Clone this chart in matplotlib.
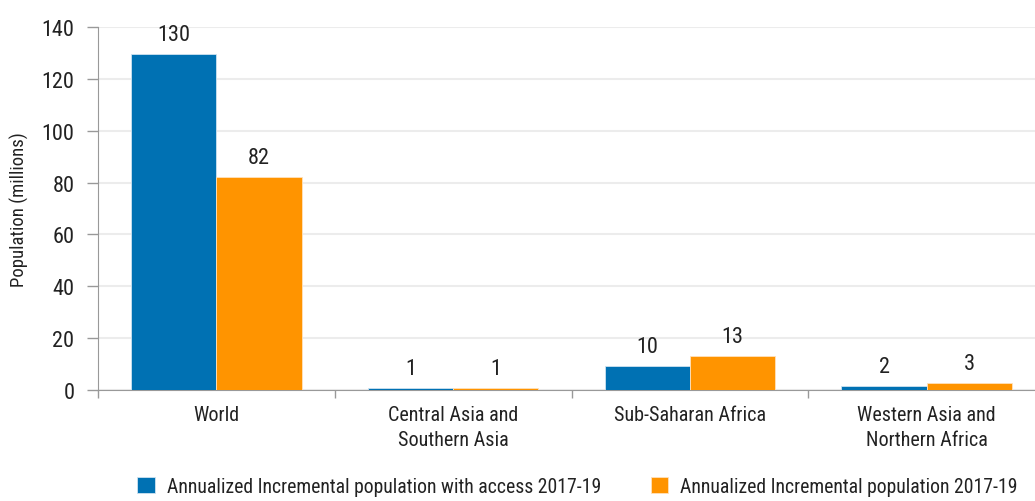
import matplotlib
matplotlib.use('Agg')
import matplotlib.pyplot as plt
from matplotlib import font_manager
import numpy as np

# datos
categorias = ['World', 'Central Asia and\nSouthern Asia', 'Sub-Saharan Africa',
              'Western Asia and\nNorthern Africa']
con_acceso = [129.4, 0.8, 9.2, 1.6]
incremental = [82.3, 0.8, 13.2, 2.6]
etiquetas_acceso = ['130', '1', '10', '2']
etiquetas_incr = ['82', '1', '13', '3']
series = ['Annualized Incremental population with access 2017-19',
          'Annualized Incremental population 2017-19']
yticks = [0, 20, 40, 60, 80, 100, 120, 140]

# busco una fuente angosta si existe
disponibles = {f.name for f in font_manager.fontManager.ttflist}
familia = 'DejaVu Sans'
for nombre in ['Liberation Sans Narrow', 'Roboto Condensed', 'Open Sans Condensed',
               'Roboto', 'Liberation Sans']:
    if nombre in disponibles:
        familia = nombre
        break
plt.rcParams['font.family'] = [familia, 'DejaVu Sans']

azul = '#0071b3'
naranja = '#ff9400'
texto = '#222222'

fig = plt.figure(figsize=(10.35, 5.02), dpi=100)
ax = fig.add_axes([98 / 1035, 1 - 391 / 502, 947 / 1035, 363 / 502])

x = np.arange(len(categorias))
w = 0.36
ax.bar(x - w / 2, con_acceso, w, color=azul, edgecolor='#cfe3f0', linewidth=0.6,
       label=series[0], zorder=3)
ax.bar(x + w / 2, incremental, w, color=naranja, edgecolor='#ffe2bd', linewidth=0.6,
       label=series[1], zorder=3)

for i in range(len(categorias)):
    ax.text(x[i] - w / 2, con_acceso[i] + 3.5, etiquetas_acceso[i], ha='center',
            va='bottom', fontsize=16, color=texto)
    ax.text(x[i] + w / 2, incremental[i] + 3.5, etiquetas_incr[i], ha='center',
            va='bottom', fontsize=16, color=texto)

ax.set_xlim(-0.5, len(categorias) - 0.5)
ax.set_ylim(0, 140)
ax.set_yticks(yticks)
ax.set_yticklabels([str(v) for v in yticks], fontsize=16, color=texto)
ax.set_xticks(x)
ax.set_xticklabels(categorias, fontsize=14.5, color=texto, linespacing=1.4)
ax.tick_params(axis='x', length=0, pad=11)
ax.set_xticks(np.arange(len(categorias)) - 0.5, minor=True)
ax.tick_params(axis='x', which='minor', length=6, color='#999999', width=1)
ax.tick_params(axis='y', length=8, color='#999999', width=1, pad=9)

ax.grid(axis='y', color='#ececec', linewidth=1.5, zorder=0)
for s in ['top', 'right']:
    ax.spines[s].set_visible(False)
ax.spines['left'].set_color('#999999')
ax.spines['bottom'].set_color('#999999')

ax.set_ylabel('Population (millions)', fontsize=13.5, color=texto, labelpad=9)

fig.legend(loc='lower center', bbox_to_anchor=(0.558, -0.025), ncol=2, frameon=False,
           fontsize=14.2, handlelength=0.9, handleheight=0.9, columnspacing=2.5,
           handletextpad=0.6, labelcolor=texto)

fig.savefig('out.png', dpi=100)
